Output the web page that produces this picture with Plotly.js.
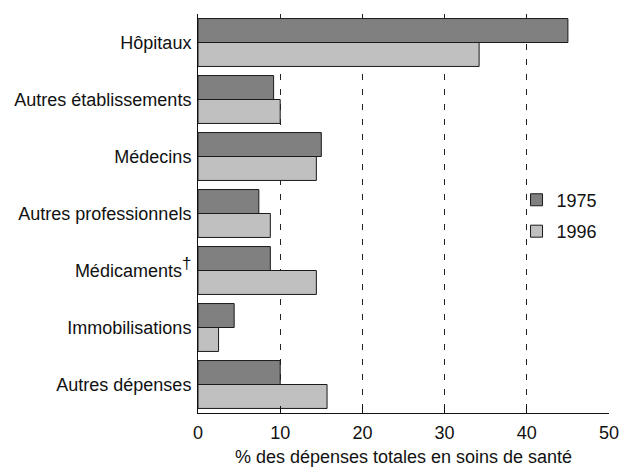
<!DOCTYPE html>
<html><head><meta charset="utf-8">
<script src="https://cdn.plot.ly/plotly-3.0.1.min.js"></script>
<style>html,body{margin:0;padding:0;background:#fff}</style>
</head><body>
<div id="chart" style="width:621px;height:475px"></div>
<script>
var categories = ["Hôpitaux", "Autres établissements", "Médecins", "Autres professionnels", "Médicaments<sup><span style='font-size:17px'>†</span></sup>", "Immobilisations", "Autres dépenses"];
var values1975 = [45.0, 9.2, 15.0, 7.4, 8.8, 4.4, 10.0];
var values1996 = [34.2, 10.0, 14.4, 8.8, 14.4, 2.5, 15.7];
var seriesNames = ["1975", "1996"];
var xTicks = [0, 10, 20, 30, 40, 50];

var FONT = "Liberation Sans, Arial, sans-serif";
var traces = [
  {type: "bar", orientation: "h", name: seriesNames[0], legendgroup: "a", y: categories, x: values1975,
   marker: {color: "#808080", line: {color: "#1a1a1a", width: 1}}},
  {type: "bar", orientation: "h", name: seriesNames[1], legendgroup: "b", y: categories, x: values1996,
   marker: {color: "#c0c0c0", line: {color: "#1a1a1a", width: 1}}}
];
var layout = {
  width: 621, height: 475,
  margin: {l: 198, r: 12, t: 14, b: 62},
  paper_bgcolor: "#fff", plot_bgcolor: "#fff",
  font: {family: FONT, size: 18, color: "#111"},
  barmode: "group", bargap: 0.16, bargroupgap: 0,
  showlegend: true,
  legend: {x: 0.775, y: 0.58, xanchor: "left", yanchor: "top", bgcolor: "rgba(0,0,0,0)",
           font: {family: FONT, size: 18, color: "#111"}, tracegroupgap: 5, itemwidth: 30},
  xaxis: {range: [0, 50], tickvals: xTicks, ticktext: xTicks.map(String),
          showgrid: true, gridcolor: "#222", gridwidth: 1, griddash: "6px,9px",
          showline: true, linecolor: "#111", linewidth: 1,
          ticks: "inside", ticklen: 7, tickcolor: "#111",
          zeroline: false, tickfont: {size: 18}, ticklabelstandoff: 3,
          title: {text: "% des dépenses totales en soins de santé", font: {size: 18}, standoff: 8}},
  yaxis: {autorange: "reversed", showline: true, linecolor: "#111", linewidth: 1,
          showgrid: false, ticks: "", ticklabelstandoff: 2, tickfont: {size: 18}}
};
Plotly.newPlot("chart", traces, layout, {displayModeBar: false, staticPlot: true});
</script>
</body></html>
